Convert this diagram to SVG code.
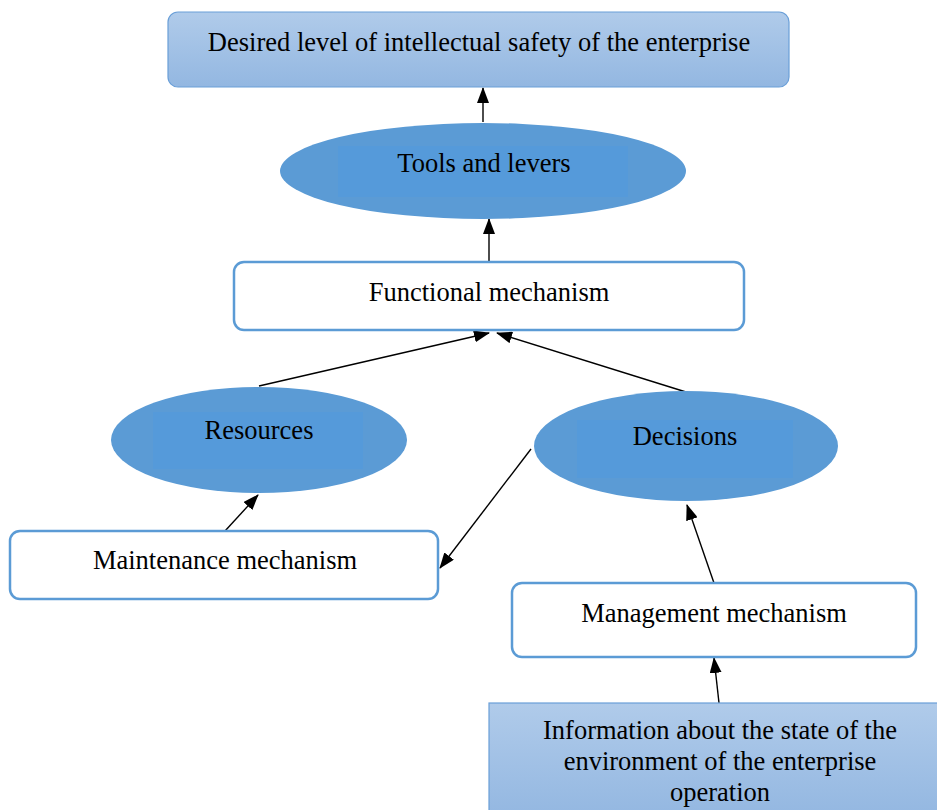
<svg xmlns="http://www.w3.org/2000/svg" width="937" height="810" viewBox="0 0 937 810">
<style>
text{font-family:"Liberation Serif","Times New Roman",serif;font-size:26.5px;fill:#000;text-anchor:middle}
.box{fill:#fff;stroke:#5b9bd5;stroke-width:2.5}
.grad{fill:url(#g);stroke:#6a9fd8;stroke-width:1.2}
.ell{fill:#5b9bd5}
.inner{fill:#559ada}
.con{stroke:#000;stroke-width:1.4;fill:none;marker-end:url(#ah)}
</style>
<defs>
<linearGradient id="g" x1="0" y1="0" x2="0" y2="1">
<stop offset="0" stop-color="#b0cbea"/>
<stop offset="1" stop-color="#93b7e1"/>
</linearGradient>
<marker id="ah" viewBox="0 0 16 12" refX="15" refY="6" markerWidth="16" markerHeight="12" markerUnits="userSpaceOnUse" orient="auto">
<path d="M0,0 L16,6 L0,12 z" fill="#000"/>
</marker>
</defs>
<rect width="937" height="810" fill="#fff"/>
<g id="connectors">
<line class="con" x1="483" y1="122" x2="483" y2="88"/>
<line class="con" x1="489" y1="262" x2="489" y2="219"/>
<line class="con" x1="259" y1="386" x2="489" y2="333"/>
<line class="con" x1="686" y1="392" x2="497" y2="333"/>
<line class="con" x1="225" y1="531" x2="258" y2="495"/>
<line class="con" x1="531" y1="449" x2="440" y2="568"/>
<line class="con" x1="714" y1="583" x2="687" y2="505"/>
<line class="con" x1="719" y1="703" x2="714" y2="658"/>
</g>
<g id="desired">
<rect class="grad" x="168" y="12" width="621" height="75" rx="10"/>
<text x="479" y="51">Desired level of intellectual safety of the enterprise</text>
</g>
<g id="tools">
<ellipse class="ell" cx="483" cy="171" rx="203" ry="48"/>
<rect class="inner" x="338" y="146" width="290" height="51"/>
<text x="484" y="172">Tools and levers</text>
</g>
<g id="functional">
<rect class="box" x="234" y="262" width="510" height="68" rx="10"/>
<text x="489" y="301">Functional mechanism</text>
</g>
<g id="resources">
<ellipse class="ell" cx="259" cy="440" rx="148" ry="53"/>
<rect class="inner" x="153" y="412" width="210" height="57"/>
<text x="259" y="439">Resources</text>
</g>
<g id="decisions">
<ellipse class="ell" cx="686" cy="446" rx="152" ry="55"/>
<rect class="inner" x="577" y="420" width="216" height="58"/>
<text x="685" y="445">Decisions</text>
</g>
<g id="maintenance">
<rect class="box" x="10" y="531" width="428" height="68" rx="10"/>
<text x="225" y="569">Maintenance mechanism</text>
</g>
<g id="management">
<rect class="box" x="512" y="583" width="404" height="74" rx="10"/>
<text x="714" y="622">Management mechanism</text>
</g>
<g id="information">
<rect class="grad" x="489" y="703" width="460" height="115"/>
<text x="720" y="739">Information about the state of the</text>
<text x="720" y="770">environment of the enterprise</text>
<text x="720" y="801">operation</text>
</g>
</svg>
